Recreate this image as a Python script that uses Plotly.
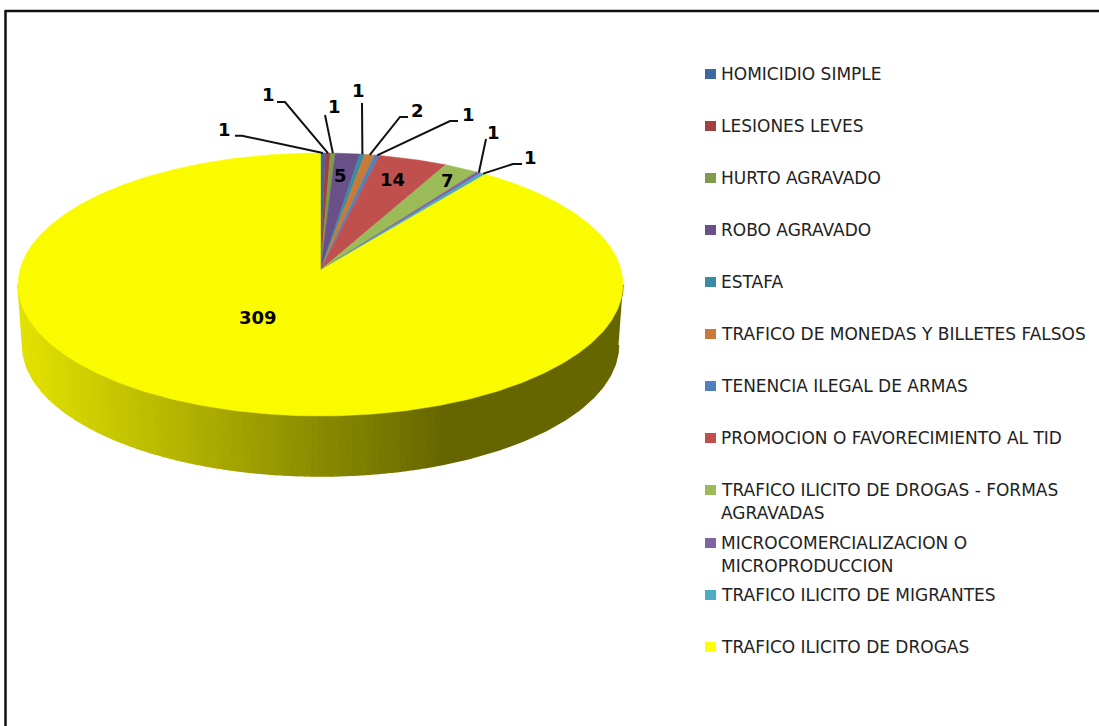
import math
import plotly.graph_objects as go

# ---- data ----
CATEGORIES = [
    "HOMICIDIO SIMPLE", "LESIONES LEVES", "HURTO AGRAVADO", "ROBO AGRAVADO", "ESTAFA",
    "TRAFICO DE MONEDAS Y BILLETES FALSOS", "TENENCIA ILEGAL DE ARMAS",
    "PROMOCION O FAVORECIMIENTO AL TID",
    "TRAFICO ILICITO DE DROGAS - FORMAS<br>AGRAVADAS",
    "MICROCOMERCIALIZACION O<br>MICROPRODUCCION",
    "TRAFICO ILICITO DE MIGRANTES", "TRAFICO ILICITO DE DROGAS",
]
VALUES = [1, 1, 1, 5, 1, 2, 1, 14, 7, 1, 1, 309]
COLORS = ["#3C6AA0", "#A04040", "#7F9A48", "#6A5088", "#3A8CA4", "#C87A38",
          "#4F81BD", "#C0504D", "#9BBB59", "#8064A2", "#4BACC6", "#FBFB00"]

# ---- layout / style ----
W, H = 1099, 726
CX, CY, RX, RY = 320.5, 284.5, 302.5, 131.5      # top ellipse
RX2, CY2, RY2 = 298.0, 345.0, 131.0              # bottom ellipse
APEX_Y = 270.0
LEGEND_Y = [74, 126, 178, 230, 282, 334, 386, 438, 490, 543, 595, 647]
LEGEND_LINE = 23
FONT = "DejaVu Sans"
LEG_SIZE = 17
LBL_SIZE = 18
# label position and leader polyline (label anchor end) for each slice; None => inside
LABELS = [
    ((224, 129), [(235, 135.7), (242, 135.7)]),
    ((268, 94), [(277, 102), (285, 102)]),
    ((334, 106), [(325, 115)]),
    ((340, 175), None),
    ((358, 90), [(362, 103)]),
    ((417, 110), [(408, 117), (400, 117)]),
    ((468, 114), [(458, 121), (450, 121)]),
    ((392, 179), None),
    ((447, 180), None),
    ((493, 132), [(486, 139)]),
    ((530, 157), [(522, 164), (513, 164)]),
    ((258, 317), None),
]

Y0 = (CY - APEX_Y) / RY


def project(theta):
    """Clockwise angle from 12 o'clock on the pie -> screen position (perspective)."""
    u, v = math.sin(theta), math.cos(theta)
    d = 1 + Y0 * v
    return (CX + RX * u * math.sqrt(1 - Y0 ** 2) / d, CY - RY * (v + Y0) / d)


fig = go.Figure()

# side wall: bands shaded by horizontal position, merged by shade so no seams show
bands = {}
N = 720
for i in range(N):
    a0, a1 = math.pi * i / N, math.pi * (i + 1) / N
    mx = CX + RX * math.cos((a0 + a1) / 2)
    t = min(1.0, max(0.0, (mx - 20) / (445 - 20)))
    g = 102 + 2 * round((226 - 102) * (1 - t) / 2)
    bands.setdefault(g, []).append((a0, a1))

for g in sorted(bands):   # dark (right) to light (left): each overlaps the previous one
    a_start = bands[g][0][0]
    a_end = bands[g][-1][1]
    n = max(2, int((a_end - a_start) * 80))
    arc = [a_start + (a_end - a_start) * k / n for k in range(n + 1)]
    xs = [CX + RX * math.cos(a) for a in arc] + [CX + RX2 * math.cos(a) for a in reversed(arc)]
    ys = [CY + RY * math.sin(a) for a in arc] + [CY2 + RY2 * math.sin(a) for a in reversed(arc)]
    col = f"rgb({g},{g},0)"
    fig.add_trace(go.Scatter(x=xs, y=ys, mode="lines", fill="toself", fillcolor=col,
                             line=dict(color=col, width=1.5), hoverinfo="skip", showlegend=False))

# top face wedges, drawn from the values
total = sum(VALUES)
cum = 0
mids = []
for name, val, col in zip(CATEGORIES, VALUES, COLORS):
    t0 = 2 * math.pi * cum / total
    t1 = 2 * math.pi * (cum + val) / total
    steps = max(2, int(val * 2))
    pts = [project(t0 + (t1 - t0) * k / steps) for k in range(steps + 1)]
    xs = [CX] + [p[0] for p in pts] + [CX]
    ys = [APEX_Y] + [p[1] for p in pts] + [APEX_Y]
    fig.add_trace(go.Scatter(x=xs, y=ys, mode="lines", fill="toself", fillcolor=col,
                             line=dict(color=col, width=0.5), name=name.replace("<br>", " "),
                             hovertemplate=f"{name}: {val}<extra></extra>", showlegend=False))
    mids.append(project((t0 + t1) / 2))
    cum += val

# leader lines
for (lab, lead), mid in zip(LABELS, mids):
    if lead:
        pts = lead + [mid]
        fig.add_trace(go.Scatter(x=[p[0] for p in pts], y=[p[1] for p in pts], mode="lines",
                                 line=dict(color="#111111", width=2), hoverinfo="skip", showlegend=False))

annotations = []
for (lab, lead), val in zip(LABELS, VALUES):
    annotations.append(dict(x=lab[0], y=lab[1], xref="x", yref="y", text=str(val), showarrow=False,
                            xanchor="center", yanchor="middle",
                            font=dict(family=FONT, size=LBL_SIZE, color="#000000", weight="bold")))

shapes = [
    dict(type="line", xref="x", yref="y", x0=5.5, x1=5.5, y0=11, y1=726, line=dict(color="#111111", width=2.5)),
    dict(type="line", xref="x", yref="y", x0=4.5, x1=1099, y0=11, y1=11, line=dict(color="#111111", width=2.5)),
]
for name, col, y in zip(CATEGORIES, COLORS, LEGEND_Y):
    col = "#FFFF00" if col == "#FBFB00" else col
    shapes.append(dict(type="rect", xref="x", yref="y", x0=705, x1=716, y0=y - 5, y1=y + 5,
                       fillcolor=col, line=dict(width=0)))
    for k, line in enumerate(name.split("<br>")):
        annotations.append(dict(x=719, y=y + k * LEGEND_LINE, xref="x", yref="y", text=line, showarrow=False,
                                xanchor="left", yanchor="middle",
                                font=dict(family=FONT, size=LEG_SIZE, color="#222222")))

fig.update_layout(
    width=W, height=H, margin=dict(l=0, r=0, t=0, b=0), paper_bgcolor="white", plot_bgcolor="white",
    showlegend=False, shapes=shapes, annotations=annotations,
    xaxis=dict(range=[0, W], visible=False, fixedrange=True),
    yaxis=dict(range=[H, 0], visible=False, fixedrange=True),
)
fig.write_html("out.html", config=dict(displayModeBar=False),
               post_script="document.body.style.margin='0';")
